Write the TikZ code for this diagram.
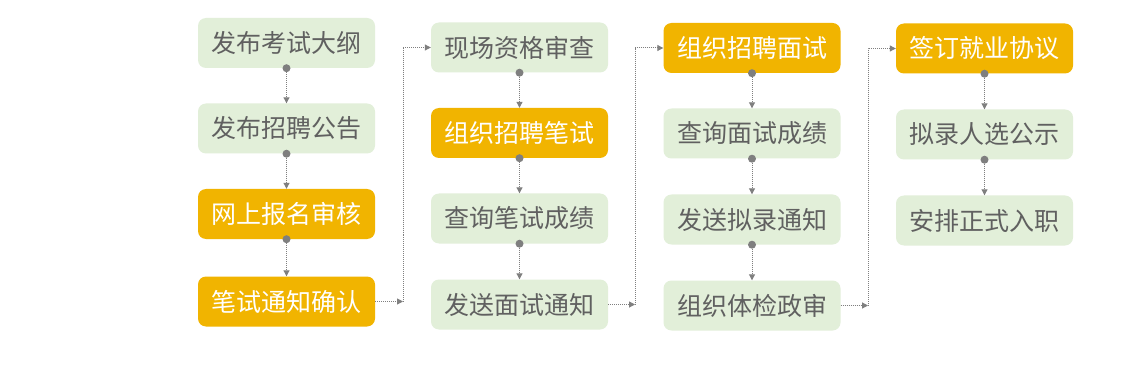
\documentclass[tikz,border=0pt]{standalone}
\usepackage{fontspec}
\setmainfont{Noto Sans CJK SC}
\usetikzlibrary{arrows.meta}
\definecolor{gbox}{HTML}{E2EFD9}
\definecolor{obox}{HTML}{F1B400}
\definecolor{gtext}{HTML}{606060}
\definecolor{lgray}{HTML}{7F7F7F}
\begin{document}
\begin{tikzpicture}[x=1pt,y=-1pt,
  box/.style={rounded corners=8pt, minimum width=177pt, minimum height=50pt, inner sep=0pt, font=\fontsize{25}{27}\selectfont},
  gbx/.style={box, fill=gbox, text=gtext},
  obx/.style={box, fill=obox, text=white},
  link/.style={draw=lgray, dash pattern=on 1pt off 1pt, line width=1pt, -{Triangle[length=6pt,width=6pt]}},
  dotmark/.style={fill=lgray}]
\useasboundingbox[fill=white] (0,0) rectangle (1140,382);
% column 1
\node[gbx] (a1) at (286.5,43) {发布考试大纲};
\node[gbx] (a2) at (286.5,128.5) {发布招聘公告};
\node[obx] (a3) at (286.5,214) {网上报名审核};
\node[obx] (a4) at (286.5,301.5) {笔试通知确认};
% column 2
\node[gbx] (b1) at (519.5,47.5) {现场资格审查};
\node[obx] (b2) at (519.5,133) {组织招聘笔试};
\node[gbx] (b3) at (519.5,218.5) {查询笔试成绩};
\node[gbx] (b4) at (519.5,304.5) {发送面试通知};
% column 3
\node[obx] (c1) at (752,48) {组织招聘面试};
\node[gbx] (c2) at (752,133.5) {查询面试成绩};
\node[gbx] (c3) at (752,219.5) {发送拟录通知};
\node[gbx] (c4) at (752,305.5) {组织体检政审};
% column 4
\node[obx] (d1) at (984.5,48.5) {签订就业协议};
\node[gbx] (d2) at (984.5,134.5) {拟录人选公示};
\node[gbx] (d3) at (984.5,220.5) {安排正式入职};
% vertical links
\foreach \u/\v in {a1/a2,a2/a3,a3/a4,b1/b2,b2/b3,b3/b4,c1/c2,c2/c3,c3/c4,d1/d2,d2/d3}{
  \draw[link] (\u.south) -- (\v.north);
  \fill[dotmark] (\u.south) circle (4pt);
}
% column transfers
\coordinate (k1) at (403,301.5);
\coordinate (k2) at (635,304.5);
\coordinate (k3) at (868,305.5);
\draw[link] (a4.east) -- (k1);
\draw[link] (k1) |- (b1.west);
\draw[link] (b4.east) -- (k2);
\draw[link] (k2) |- (c1.west);
\draw[link] (c4.east) -- (k3);
\draw[link] (k3) |- (d1.west);
\end{tikzpicture}
\end{document}
